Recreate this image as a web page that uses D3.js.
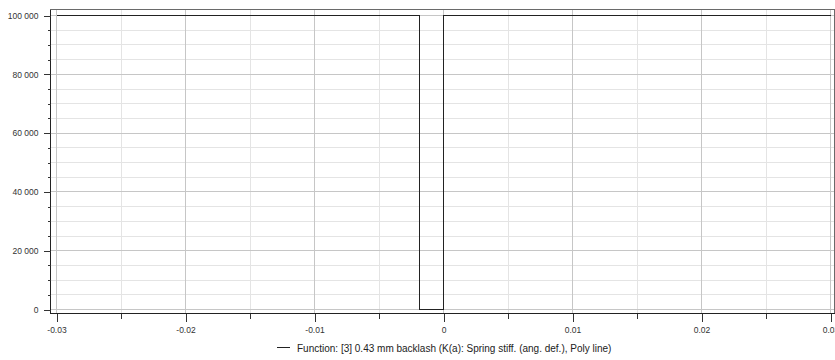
<!DOCTYPE html>
<html>
<head>
<meta charset="utf-8">
<script src="https://cdn.jsdelivr.net/npm/d3@7"></script>
<style>
  html, body { margin: 0; padding: 0; background: #fff; }
  svg { display: block; font-family: "Liberation Sans", Arial, sans-serif; }
  .tick text { fill: #333; }
</style>
</head>
<body>
<svg id="chart" width="835" height="360"></svg>
<script>
// Angular deflection (rad) vs. spring stiffness for the backlash function
const angle = [-0.03, -0.00184, -0.00184, 0, 0, 0.03];
const stiffness = [100000, 100000, 0, 0, 100000, 100000];

const xMajorTicks = [-0.03, -0.02, -0.01, 0, 0.01, 0.02, 0.03];
const xTickLabels = ["-0.03", "-0.02", "-0.01", "0", "0.01", "0.02", "0.03"];
const xMinorTicks = [-0.025, -0.015, -0.005, 0.005, 0.015, 0.025];
const yMajorTicks = [0, 20000, 40000, 60000, 80000, 100000];
const yTickLabels = ["0", "20 000", "40 000", "60 000", "80 000", "100 000"];
const yMinorTicks = [5000, 10000, 15000, 25000, 30000, 35000, 45000, 50000, 55000,
                     65000, 70000, 75000, 85000, 90000, 95000];
const legendLabel = "Function: [3] 0.43 mm backlash (K(a): Spring stiff. (ang. def.), Poly line)";

const svg = d3.select("#chart");
const frame = { left: 50.5, right: 834.5, top: 9.5, bottom: 313.5 };

const x = d3.scaleLinear().domain([-0.03, 0.03]).range([56.5, 830.5]);
const y = d3.scaleLinear().domain([0, 100000]).range([309.5, 15.5]);

const grid = svg.append("g").attr("shape-rendering", "crispEdges");
// minor grid
grid.selectAll("line.vminor").data(xMinorTicks).join("line")
  .attr("x1", d => x(d)).attr("x2", d => x(d))
  .attr("y1", frame.top).attr("y2", frame.bottom)
  .attr("stroke", "#e4e4e4");
grid.selectAll("line.hminor").data(yMinorTicks).join("line")
  .attr("x1", frame.left).attr("x2", frame.right)
  .attr("y1", d => y(d)).attr("y2", d => y(d))
  .attr("stroke", "#e4e4e4");
// major grid
grid.selectAll("line.vmajor").data(xMajorTicks).join("line")
  .attr("x1", d => x(d)).attr("x2", d => x(d))
  .attr("y1", frame.top).attr("y2", frame.bottom)
  .attr("stroke", "#c6c6c6");
grid.selectAll("line.hmajor").data(yMajorTicks).join("line")
  .attr("x1", frame.left).attr("x2", frame.right)
  .attr("y1", d => y(d)).attr("y2", d => y(d))
  .attr("stroke", "#c6c6c6");

// plot frame
svg.append("rect")
  .attr("x", frame.left).attr("y", frame.top)
  .attr("width", frame.right - frame.left).attr("height", frame.bottom - frame.top)
  .attr("fill", "none").attr("stroke", "#6a6a6a")
  .attr("shape-rendering", "crispEdges");

// data polyline
const line = d3.line().x((d, i) => x(angle[i])).y((d, i) => y(stiffness[i]));
svg.append("path")
  .datum(angle)
  .attr("d", line)
  .attr("fill", "none")
  .attr("stroke", "#222")
  .attr("stroke-width", 1.2)
  .attr("shape-rendering", "crispEdges");

// x axis
const xAxis = svg.append("g").attr("transform", `translate(0,${frame.bottom})`);
xAxis.call(d3.axisBottom(x).tickValues(xMajorTicks).tickSize(8).tickPadding(5)
  .tickFormat((d, i) => xTickLabels[i]));
xAxis.append("g").call(d3.axisBottom(x).tickValues(xMinorTicks).tickSize(5).tickFormat(""))
  .select(".domain").remove();
xAxis.selectAll(".domain").attr("d", `M${frame.left},0H${frame.right}`).attr("stroke", "#222");
xAxis.selectAll("line").attr("stroke", "#333");
xAxis.selectAll("text").attr("font-size", 8.5).attr("font-family", "Liberation Sans, Arial, sans-serif");
xAxis.attr("shape-rendering", "crispEdges");

// y axis
const yAxis = svg.append("g").attr("transform", `translate(${frame.left},0)`);
yAxis.call(d3.axisLeft(y).tickValues(yMajorTicks).tickSize(7).tickPadding(5)
  .tickFormat((d, i) => yTickLabels[i]));
yAxis.append("g").call(d3.axisLeft(y).tickValues(yMinorTicks).tickSize(3).tickFormat(""))
  .select(".domain").remove();
yAxis.selectAll(".domain").attr("d", `M0,${frame.top}V${frame.bottom}`).attr("stroke", "#222");
yAxis.selectAll("line").attr("stroke", "#333");
yAxis.selectAll("text").attr("font-size", 8.5).attr("font-family", "Liberation Sans, Arial, sans-serif");
yAxis.attr("shape-rendering", "crispEdges");

// legend
const legend = svg.append("g").attr("transform", "translate(277,348)");
legend.append("line").attr("x1", 0).attr("x2", 13).attr("y1", -0.5).attr("y2", -0.5)
  .attr("stroke", "#222").attr("shape-rendering", "crispEdges");
legend.append("text").attr("x", 20).attr("y", 3.5)
  .attr("font-size", 10).attr("fill", "#222")
  .text(legendLabel);
</script>
</body>
</html>
